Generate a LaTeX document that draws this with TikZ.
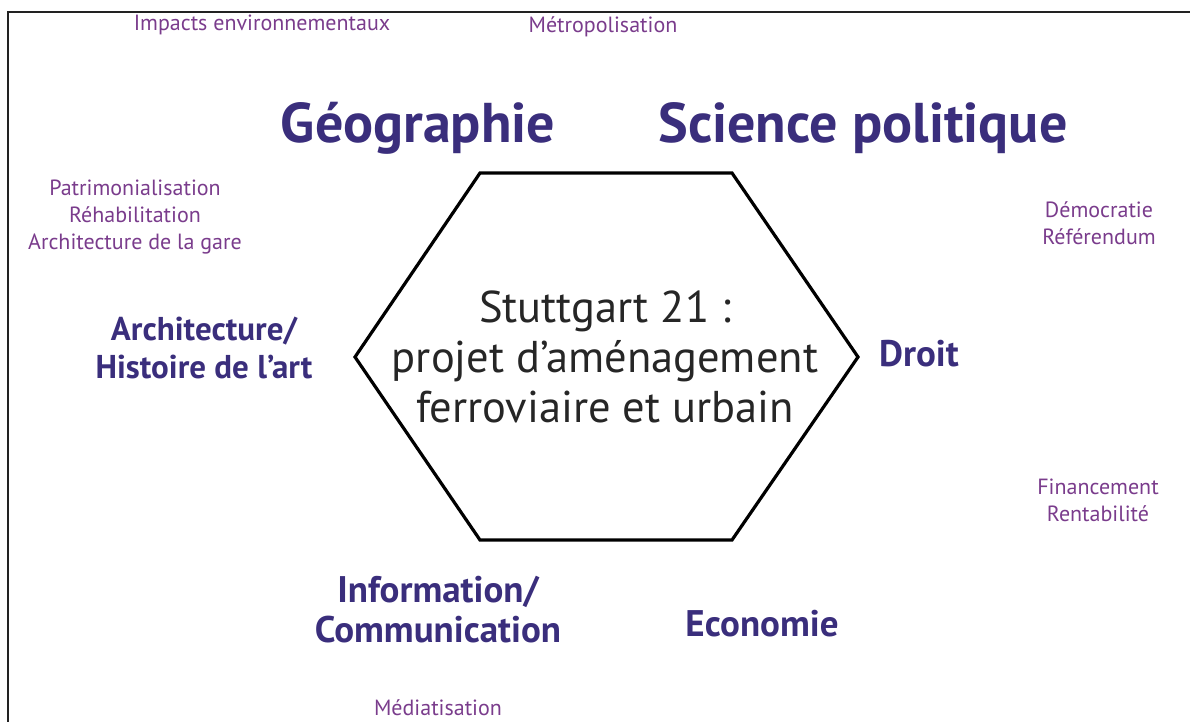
\documentclass[tikz,border=0pt]{standalone}
\usepackage{fontspec}
\setmainfont{PT Sans}
\definecolor{headc}{HTML}{3A2E7C}
\definecolor{subc}{HTML}{7A3C8C}
\definecolor{framec}{HTML}{222222}
\tikzset{
  head/.style={text=headc, font=\fontsize{37}{40}\selectfont\bfseries, align=center, inner sep=0pt},
  archhead/.style={text=headc, font=\fontsize{33}{38}\selectfont\bfseries, align=center, inner sep=0pt},
  bighead/.style={text=headc, font=\fontsize{56}{60}\selectfont\bfseries, align=center, inner sep=0pt},
  sub/.style={text=subc, font=\fontsize{22}{27}\selectfont, align=center, inner sep=0pt},
  hexline/.style={draw=black, line width=3.2pt, line join=miter},
}
\begin{document}
\begin{tikzpicture}[x=1pt,y=-1pt]
\useasboundingbox (0,0) rectangle (1190,722);
% frame
\coordinate (ftr) at (1190,12.5);
\coordinate (ftl) at (8,12.5);
\coordinate (fbl) at (8,722);
\draw[framec, line width=2pt] (ftr) -- (ftl) -- (fbl);
% hexagon
\coordinate (h1) at (480,173);
\coordinate (h2) at (732,173);
\coordinate (h3) at (858,357);
\coordinate (h4) at (732,540);
\coordinate (h5) at (480,540);
\coordinate (h6) at (355,357);
\draw[hexline] (h1) -- (h2) -- (h3) -- (h4) -- (h5) -- (h6) -- cycle;
\node[align=center, inner sep=0pt, font=\fontsize{44.5}{50}\selectfont, text=black!85] (center) at (605,357) {Stuttgart 21 :\\projet d’aménagement\\ferroviaire et urbain};
% main disciplines
\node[bighead] (geo) at (418,128) {Géographie};
\node[bighead] (sci) at (863,128) {Science politique};
\node[archhead] (arch) at (204,348) {Architecture/\\Histoire de l’art};
\node[head] (droit) at (919,354) {Droit};
\node[head] (info) at (438,610) {Information/\\Communication};
\node[head] (eco) at (762,624) {Economie};
% sub topics
\node[sub] (impacts) at (262,25) {Impacts environnementaux};
\node[sub] (metro) at (603,27) {Métropolisation};
\node[sub] (patri) at (135,217) {Patrimonialisation\\Réhabilitation\\Architecture de la gare};
\node[sub] (demo) at (1099,223) {Démocratie\\Référendum};
\node[sub] (fin) at (1098,500) {Financement\\Rentabilité};
\node[sub, anchor=base] (media) at (438,715) {Médiatisation};
\end{tikzpicture}
\end{document}
